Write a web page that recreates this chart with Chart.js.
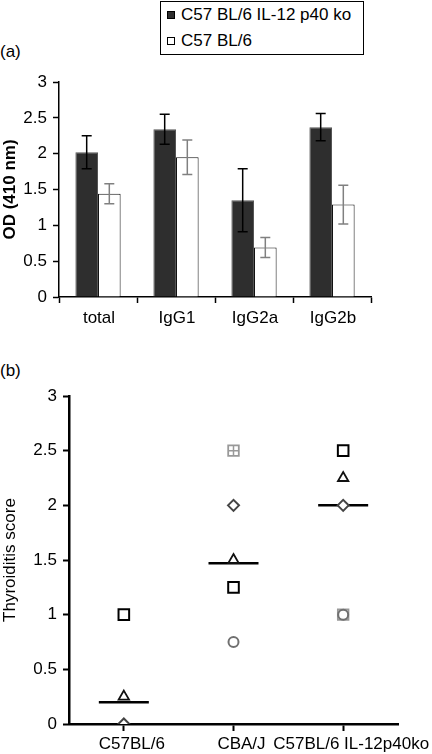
<!DOCTYPE html>
<html>
<head>
<meta charset="utf-8">
<script src="https://cdn.jsdelivr.net/npm/chart.js@4"></script>
<style>
  html, body { margin: 0; padding: 0; background: #fff; }
  body { width: 432px; height: 754px; overflow: hidden; position: relative;
         font-family: "Liberation Sans", Arial, sans-serif; color: #000; }
  #cA { position: absolute; left: 0; top: 0; }
  #cB { position: absolute; left: 0; top: 340px; }
  .panel { position: absolute; left: 0; font-size: 17px; line-height: 20px; }
  #legend { position: absolute; left: 160px; top: 1px; width: 204px; height: 54px;
            box-sizing: border-box; border: 1px solid #000; background: #fff; font-size: 17px; }
  .row { display: flex; align-items: center; height: 26px; padding-left: 6px; }
  .sw { width: 8px; height: 8px; box-sizing: border-box; margin-right: 6px; border: 1px solid #000; }
</style>
</head>
<body>
<div class="panel" style="top:42px">(a)</div>
<div class="panel" style="top:361px">(b)</div>
<div id="legend">
  <div class="row"><span class="sw" style="background:#2e2e2e"></span><span id="lg0"></span></div>
  <div class="row"><span class="sw" style="background:#fff"></span><span id="lg1"></span></div>
</div>
<canvas id="cA" width="432" height="340"></canvas>
<canvas id="cB" width="470" height="414"></canvas>
<script>
// ---------- Panel (a) data ----------
const isotypes = ["total", "IgG1", "IgG2a", "IgG2b"];
const seriesNames = ["C57 BL/6 IL-12 p40 ko", "C57 BL/6"];
const koOD = [2.02, 2.34, 1.35, 2.37];
const koErr = [0.23, 0.21, 0.44, 0.19];
const wtOD = [1.44, 1.95, 0.69, 1.29];
const wtErr = [0.14, 0.24, 0.14, 0.27];
const odTicks = [0, 0.5, 1, 1.5, 2, 2.5, 3];

// ---------- Panel (b) data ----------
const strains = ["C57BL/6", "CBA/J", "C57BL/6 IL-12p40ko"];
const squareScores = [1, 1.25, 2.5];
const triangleScores = [0.25, 1.5, 2.25];
const diamondScores = [0, 2, 2];
const circleScores = [null, 0.75, 1];
const greySquareScores = [null, 2.5, 1];
const crossScores = [null, 2.5, null];
const medianScores = [0.2, 1.47, 2.0];
const scoreTicks = [0, 0.5, 1, 1.5, 2, 2.5, 3];

document.getElementById('lg0').textContent = seriesNames[0];
document.getElementById('lg1').textContent = seriesNames[1];

Chart.defaults.font.family = '"Liberation Sans", Arial, sans-serif';
Chart.defaults.font.size = 17;
Chart.defaults.color = '#000';
Chart.defaults.animation = false;

const fmt = v => String(v);

const errorBars = {
  id: 'errorBars',
  afterDatasetsDraw(chart) {
    const ctx = chart.ctx;
    const ys = chart.scales.y;
    chart.data.datasets.forEach((ds, di) => {
      const meta = chart.getDatasetMeta(di);
      ctx.save();
      ctx.strokeStyle = ds.errColor;
      ctx.lineWidth = 1.5;
      meta.data.forEach((bar, i) => {
        const v = ds.data[i], e = ds.err[i];
        const yt = ys.getPixelForValue(v + e), yb = ys.getPixelForValue(v - e);
        const x = bar.x, cw = 5;
        ctx.beginPath();
        ctx.moveTo(x, yt); ctx.lineTo(x, yb);
        ctx.moveTo(x - cw, yt); ctx.lineTo(x + cw, yt);
        ctx.moveTo(x - cw, yb); ctx.lineTo(x + cw, yb);
        ctx.stroke();
      });
      ctx.restore();
    });
  }
};

new Chart(document.getElementById('cA'), {
  type: 'bar',
  data: {
    labels: isotypes,
    datasets: [
      { label: seriesNames[0], data: koOD, err: koErr, errColor: '#000',
        backgroundColor: '#2e2e2e', borderColor: '#555', borderWidth: 1,
        categoryPercentage: 0.58, barPercentage: 1.0 },
      { label: seriesNames[1], data: wtOD, err: wtErr, errColor: '#808080',
        backgroundColor: '#fff', borderColor: '#111', borderWidth: 1,
        categoryPercentage: 0.58, barPercentage: 1.0 }
    ]
  },
  options: {
    responsive: false,
    layout: { padding: { top: 82, left: 0, right: 61, bottom: 0 } },
    plugins: { legend: { display: false }, tooltip: { enabled: false } },
    scales: {
      x: {
        grid: { drawOnChartArea: false, drawTicks: true, tickLength: 6, tickColor: '#000', tickWidth: 1.5, offset: true },
        border: { display: true, color: '#000', width: 1.5 },
        ticks: { padding: 5, maxRotation: 0, autoSkip: false, labelOffset: 1 },
        afterFit(s) { s.height = 43; }
      },
      y: {
        min: 0, max: 3,
        afterBuildTicks(s) { s.ticks = odTicks.map(v => ({ value: v })); },
        grid: { drawOnChartArea: false, drawTicks: true, tickLength: 6, tickColor: '#000', tickWidth: 1.5 },
        border: { display: true, color: '#000', width: 1.5 },
        ticks: { padding: 6, callback: fmt },
        title: { display: true, text: 'OD (410 nm)', font: { size: 17, weight: 'bold' }, padding: 0 },
        afterFit(s) { s.width = 59; }
      }
    }
  },
  plugins: [errorBars]
});

new Chart(document.getElementById('cB'), {
  type: 'line',
  data: {
    labels: strains,
    datasets: [
      { label: 'median', data: medianScores, showLine: false, pointStyle: 'line', pointRadius: 25,
        borderColor: '#000', borderWidth: 2.5, order: 5 },
      { label: 'square', data: squareScores, showLine: false, pointStyle: 'rect', pointRadius: 7.5,
        borderColor: '#000', backgroundColor: '#fff', borderWidth: 2, order: 1 },
      { label: 'triangle', data: triangleScores, showLine: false, pointStyle: 'triangle', pointRadius: 6,
        borderColor: '#111', backgroundColor: '#fff', borderWidth: 1.8, order: 2 },
      { label: 'diamond', data: diamondScores, showLine: false, pointStyle: 'rectRot', pointRadius: 5.5,
        borderColor: '#444', backgroundColor: '#fff', borderWidth: 2, order: 0 },
      { label: 'circle', data: circleScores, showLine: false, pointStyle: 'circle', pointRadius: 5,
        borderColor: '#707070', backgroundColor: '#fff', borderWidth: 2, order: 3 },
      { label: 'greysquare', data: greySquareScores, showLine: false, pointStyle: 'rect', pointRadius: 7.5,
        borderColor: '#999', backgroundColor: '#fff', borderWidth: 1.8, order: 4 },
      { label: 'cross', data: crossScores, showLine: false, pointStyle: 'cross', pointRadius: 5.2,
        borderColor: '#999', borderWidth: 1.5, order: 3.5 }
    ]
  },
  options: {
    responsive: false,
    layout: { padding: { top: 56, left: 0, right: 72, bottom: 0 } },
    plugins: { legend: { display: false }, tooltip: { enabled: false } },
    elements: { point: { hoverRadius: 0 } },
    scales: {
      x: {
        offset: true,
        grid: { drawOnChartArea: false, drawTicks: true, tickLength: 7, tickColor: '#000', tickWidth: 2, offset: false },
        border: { display: true, color: '#000', width: 2.5 },
        ticks: { padding: 3, maxRotation: 0, minRotation: 0, autoSkip: false, labelOffset: 8 },
        afterFit(s) { s.height = 30; }
      },
      y: {
        min: 0, max: 3,
        afterBuildTicks(s) { s.ticks = scoreTicks.map(v => ({ value: v })); },
        grid: { drawOnChartArea: false, drawTicks: true, tickLength: 6, tickColor: '#000', tickWidth: 2 },
        border: { display: true, color: '#000', width: 2.5 },
        ticks: { padding: 6, callback: fmt },
        title: { display: true, text: 'Thyroiditis score', font: { size: 17 }, padding: 0 },
        afterFit(s) { s.width = 69; }
      }
    }
  }
});
</script>
</body>
</html>
